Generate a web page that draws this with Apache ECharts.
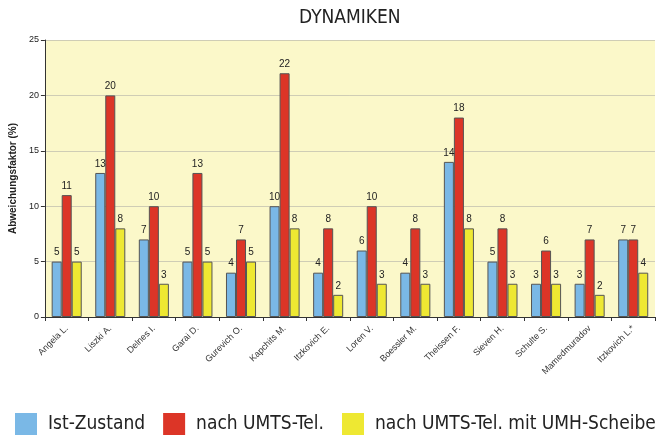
<!DOCTYPE html>
<html>
<head>
<meta charset="utf-8">
<script src="https://cdn.jsdelivr.net/npm/echarts@6/dist/echarts.min.js"></script>
<style>
  html, body { margin: 0; padding: 0; background: #fff; }
  #chart { width: 662px; height: 436px; }
</style>
</head>
<body>
<div id="chart"></div>
<script>
const names = ["Angela L.", "Liszki A.", "Delnes I.", "Garai D.", "Gurevich O.", "Kapchits M.", "Itzkovich E.",
  "Loren V.", "Boessler M.", "Theissen F.", "Sieven H.", "Schulte S.", "Mamedmuradov", "Itzkovich L.*"];
const istZustand = [5, 13, 7, 5, 4, 10, 4, 6, 4, 14, 5, 3, 3, 7];
const nachUmts = [11, 20, 10, 13, 7, 22, 8, 10, 8, 18, 8, 6, 7, 7];
const mitScheibe = [5, 8, 3, 5, 5, 8, 2, 3, 3, 8, 3, 3, 2, 4];
const yTicks = [0, 5, 10, 15, 20, 25];

const chart = echarts.init(document.getElementById("chart"));

function barSeries(name, data, color) {
  return {
    name: name,
    type: "bar",
    data: data,
    barGap: "0%",
    barCategoryGap: "31%",
    itemStyle: { color: color, borderColor: "#555", borderWidth: 1 },
    label: {
      show: true,
      position: "top",
      distance: 4,
      fontSize: 10,
      fontFamily: "Liberation Sans",
      color: "#222",
    },
  };
}

const option = {
  animation: false,
  title: {
    text: "DYNAMIKEN",
    left: 294,
    top: 4,
    textStyle: { fontSize: 19, fontWeight: "normal", color: "#222", fontFamily: "DejaVu Sans Condensed, Noto Sans" },
  },
  legend: {
    bottom: 1,
    left: 15,
    width: 647,
    padding: 0,
    itemWidth: 22,
    itemHeight: 22,
    itemGap: 18,
    icon: "rect",
    itemStyle: { borderWidth: 0 },
    textStyle: { fontSize: 19, color: "#222", fontFamily: "DejaVu Sans Condensed, Noto Sans", padding: [0, 0, 0, 6] },
  },
  grid: {
    left: 43,
    right: 7,
    top: 40,
    bottom: 119,
    show: true,
    backgroundColor: "#fbf8c9",
    borderWidth: 0,
  },
  xAxis: {
    type: "category",
    data: names,
    axisLine: { lineStyle: { color: "#333", width: 1 } },
    axisTick: { show: true, length: 4, lineStyle: { color: "#333" } },
    axisLabel: { rotate: 45, fontSize: 9, color: "#333", fontFamily: "Liberation Sans Narrow, Liberation Sans", margin: 10, interval: 0 },
  },
  yAxis: {
    type: "value",
    min: yTicks[0],
    max: yTicks[yTicks.length - 1],
    interval: 5,
    name: "Abweichungsfaktor (%)",
    nameLocation: "middle",
    nameGap: 25,
    nameTextStyle: { fontSize: 10, fontWeight: "bold", color: "#222", fontFamily: "Liberation Sans" },
    axisLine: { show: true, lineStyle: { color: "#333" } },
    axisTick: { show: true, length: 4, lineStyle: { color: "#333" } },
    axisLabel: { fontSize: 9, color: "#222", fontFamily: "Liberation Sans Narrow, Liberation Sans", margin: 6 },
    splitLine: { lineStyle: { color: "#cfcdb5", width: 1 } },
  },
  series: [
    barSeries("Ist-Zustand", istZustand, "#7ab8e6"),
    barSeries("nach UMTS-Tel.", nachUmts, "#dc3527"),
    barSeries("nach UMTS-Tel. mit UMH-Scheibe", mitScheibe, "#eee832"),
  ],
};

chart.setOption(option);
</script>
</body>
</html>
